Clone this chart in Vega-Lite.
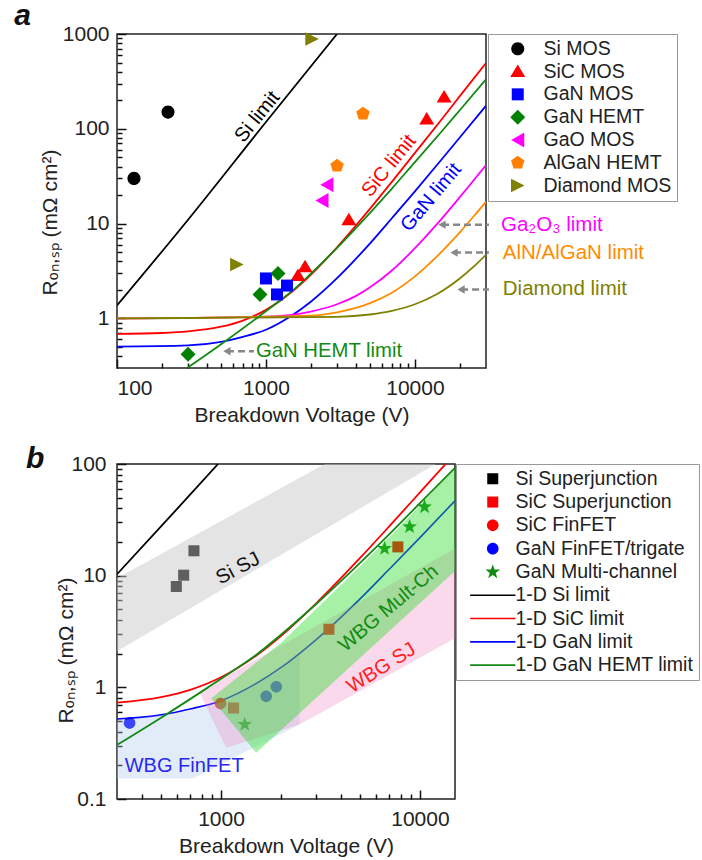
{
  "$schema": "https://vega.github.io/schema/vega-lite/v6.json",
  "padding": {"left": 13, "top": 0, "right": 0, "bottom": 0},
  "spacing": 17,
  "config": {
    "font": "Liberation Sans",
    "view": {"stroke": "#222", "strokeWidth": 1.5},
    "axis": {"labelFont": "Liberation Sans", "titleFont": "Liberation Sans", "labelColor": "#222", "titleColor": "#222", "labelFontSize": 21, "titleFontSize": 21, "titleFontWeight": "normal", "domain": false, "ticks": false, "grid": true, "gridColor": "#111111", "gridOpacity": 1, "gridWidth": 1.5, "gridCap": "butt", "labelOverlap": false},
    "legend": {"labelFont": "Liberation Sans", "labelFontSize": 19.5, "labelColor": "#222", "strokeColor": "#999", "padding": 5, "titlePadding": 0, "labelLimit": 400}
  },
  "datasets": {
    "limA": [
      {"s": "SiC", "x": 100, "y": 0.686}, {"s": "SiC", "x": 200, "y": 0.702}, {"s": "SiC", "x": 300, "y": 0.73}, {"s": "SiC", "x": 500, "y": 0.818}, {"s": "SiC", "x": 700, "y": 0.95}, {"s": "SiC", "x": 1000, "y": 1.23}, {"s": "SiC", "x": 1500, "y": 1.92}, {"s": "SiC", "x": 2000, "y": 2.88}, {"s": "SiC", "x": 3000, "y": 5.63}, {"s": "SiC", "x": 5000, "y": 14.4}, {"s": "SiC", "x": 7000, "y": 27.6}, {"s": "SiC", "x": 10000, "y": 55.7}, {"s": "SiC", "x": 15000, "y": 124}, {"s": "SiC", "x": 20000, "y": 221}, {"s": "SiC", "x": 30000, "y": 495},
      {"s": "GaN", "x": 100, "y": 0.505}, {"s": "GaN", "x": 300, "y": 0.52}, {"s": "GaN", "x": 500, "y": 0.567}, {"s": "GaN", "x": 700, "y": 0.64}, {"s": "GaN", "x": 1000, "y": 0.76}, {"s": "GaN", "x": 1500, "y": 1.08}, {"s": "GaN", "x": 2000, "y": 1.5}, {"s": "GaN", "x": 3000, "y": 2.66}, {"s": "GaN", "x": 5000, "y": 6.2}, {"s": "GaN", "x": 7000, "y": 11.4}, {"s": "GaN", "x": 10000, "y": 21.9}, {"s": "GaN", "x": 15000, "y": 46.9}, {"s": "GaN", "x": 20000, "y": 80.9}, {"s": "GaN", "x": 30000, "y": 175},
      {"s": "Ga2O3", "x": 100, "y": 1.0}, {"s": "Ga2O3", "x": 1000, "y": 1.045}, {"s": "Ga2O3", "x": 2000, "y": 1.18}, {"s": "Ga2O3", "x": 3000, "y": 1.41}, {"s": "Ga2O3", "x": 4000, "y": 1.72}, {"s": "Ga2O3", "x": 5000, "y": 2.13}, {"s": "Ga2O3", "x": 7000, "y": 3.2}, {"s": "Ga2O3", "x": 10000, "y": 5.5}, {"s": "Ga2O3", "x": 14000, "y": 9.8}, {"s": "Ga2O3", "x": 20000, "y": 19}, {"s": "Ga2O3", "x": 30000, "y": 41.5},
      {"s": "AlN", "x": 100, "y": 1.0}, {"s": "AlN", "x": 2000, "y": 1.07}, {"s": "AlN", "x": 3000, "y": 1.16}, {"s": "AlN", "x": 5000, "y": 1.45}, {"s": "AlN", "x": 7000, "y": 1.87}, {"s": "AlN", "x": 10000, "y": 2.78}, {"s": "AlN", "x": 14000, "y": 4.49}, {"s": "AlN", "x": 20000, "y": 8.1}, {"s": "AlN", "x": 25000, "y": 12.1}, {"s": "AlN", "x": 30000, "y": 17},
      {"s": "Diamond", "x": 100, "y": 1.0}, {"s": "Diamond", "x": 3000, "y": 1.04}, {"s": "Diamond", "x": 5000, "y": 1.1}, {"s": "Diamond", "x": 7000, "y": 1.2}, {"s": "Diamond", "x": 10000, "y": 1.41}, {"s": "Diamond", "x": 14000, "y": 1.8}, {"s": "Diamond", "x": 20000, "y": 2.64}, {"s": "Diamond", "x": 25000, "y": 3.56}, {"s": "Diamond", "x": 30000, "y": 4.69},
      {"s": "GaN HEMT", "x": 300, "y": 0.305}, {"s": "GaN HEMT", "x": 500, "y": 0.535}, {"s": "GaN HEMT", "x": 857, "y": 0.994}, {"s": "GaN HEMT", "x": 1200, "y": 1.48}, {"s": "GaN HEMT", "x": 1500, "y": 1.95}, {"s": "GaN HEMT", "x": 2000, "y": 2.96}, {"s": "GaN HEMT", "x": 3000, "y": 5.55}, {"s": "GaN HEMT", "x": 5000, "y": 13}, {"s": "GaN HEMT", "x": 7000, "y": 23.4}, {"s": "GaN HEMT", "x": 10000, "y": 44.6}, {"s": "GaN HEMT", "x": 15000, "y": 92.5}, {"s": "GaN HEMT", "x": 20000, "y": 157}, {"s": "GaN HEMT", "x": 30000, "y": 332},
      {"s": "Si", "x": 100, "y": 1.37}, {"s": "Si", "x": 300, "y": 11}, {"s": "Si", "x": 1000, "y": 118}, {"s": "Si", "x": 3000, "y": 1000}
    ],
    "mkA": [
      {"s": "Si MOS", "x": 130, "y": 30}, {"s": "Si MOS", "x": 220, "y": 150},
      {"s": "SiC MOS", "x": 3600, "y": 11}, {"s": "SiC MOS", "x": 1640, "y": 2.84}, {"s": "SiC MOS", "x": 1830, "y": 3.5}, {"s": "SiC MOS", "x": 12000, "y": 127}, {"s": "SiC MOS", "x": 15700, "y": 217},
      {"s": "GaN MOS", "x": 1000, "y": 2.64}, {"s": "GaN MOS", "x": 1186, "y": 1.79}, {"s": "GaN MOS", "x": 1384, "y": 2.22},
      {"s": "GaN HEMT", "x": 912, "y": 1.79}, {"s": "GaN HEMT", "x": 1204, "y": 2.98}, {"s": "GaN HEMT", "x": 300, "y": 0.42},
      {"s": "GaO MOS", "x": 2565, "y": 25.7}, {"s": "GaO MOS", "x": 2377, "y": 17.5},
      {"s": "AlGaN HEMT", "x": 3000, "y": 40.7}, {"s": "AlGaN HEMT", "x": 4480, "y": 144},
      {"s": "Diamond MOS", "x": 638, "y": 3.7}, {"s": "Diamond MOS", "x": 2040, "y": 886}
    ],
    "arrA": [
      {"x": 15200, "x2": 31400, "y": 9.75}, {"x": 18300, "x2": 31400, "y": 4.95}, {"x": 20400, "x2": 31400, "y": 2.02}, {"x": 547, "x2": 830, "y": 0.45}
    ],
    "limB": [
      {"s": "GaN", "x": 300, "y": 0.52}, {"s": "GaN", "x": 500, "y": 0.567}, {"s": "GaN", "x": 700, "y": 0.64}, {"s": "GaN", "x": 1000, "y": 0.76}, {"s": "GaN", "x": 1500, "y": 1.08}, {"s": "GaN", "x": 2000, "y": 1.5}, {"s": "GaN", "x": 3000, "y": 2.66}, {"s": "GaN", "x": 5000, "y": 6.2}, {"s": "GaN", "x": 7000, "y": 11.4}, {"s": "GaN", "x": 10000, "y": 21.9}, {"s": "GaN", "x": 15000, "y": 46.9},
      {"s": "SiC", "x": 300, "y": 0.73}, {"s": "SiC", "x": 500, "y": 0.818}, {"s": "SiC", "x": 700, "y": 0.95}, {"s": "SiC", "x": 1000, "y": 1.23}, {"s": "SiC", "x": 1500, "y": 1.92}, {"s": "SiC", "x": 2000, "y": 2.88}, {"s": "SiC", "x": 3000, "y": 5.63}, {"s": "SiC", "x": 5000, "y": 14.4}, {"s": "SiC", "x": 7000, "y": 27.6}, {"s": "SiC", "x": 10000, "y": 55.7}, {"s": "SiC", "x": 15000, "y": 124},
      {"s": "GaN HEMT", "x": 300, "y": 0.305}, {"s": "GaN HEMT", "x": 500, "y": 0.535}, {"s": "GaN HEMT", "x": 857, "y": 0.994}, {"s": "GaN HEMT", "x": 1200, "y": 1.48}, {"s": "GaN HEMT", "x": 1500, "y": 1.95}, {"s": "GaN HEMT", "x": 2000, "y": 2.96}, {"s": "GaN HEMT", "x": 3000, "y": 5.55}, {"s": "GaN HEMT", "x": 5000, "y": 13}, {"s": "GaN HEMT", "x": 7000, "y": 23.4}, {"s": "GaN HEMT", "x": 10000, "y": 44.6}, {"s": "GaN HEMT", "x": 15000, "y": 92.5},
      {"s": "Si", "x": 300, "y": 10.3}, {"s": "Si", "x": 600, "y": 39.5}, {"s": "Si", "x": 966, "y": 100}
    ],
    "mkB": [
      {"s": "Si Superjunction", "x": 596, "y": 8.0}, {"s": "Si Superjunction", "x": 649, "y": 10.1}, {"s": "Si Superjunction", "x": 731, "y": 16.7},
      {"s": "SiC Superjunction", "x": 3486, "y": 3.31}, {"s": "SiC Superjunction", "x": 7740, "y": 18.1}, {"s": "SiC Superjunction", "x": 1156, "y": 0.653},
      {"s": "SiC FinFET", "x": 995, "y": 0.715},
      {"s": "GaN FinFET/trigate", "x": 347, "y": 0.48}, {"s": "GaN FinFET/trigate", "x": 1687, "y": 0.83}, {"s": "GaN FinFET/trigate", "x": 1896, "y": 1.01},
      {"s": "GaN Multi-channel", "x": 1315, "y": 0.465}, {"s": "GaN Multi-channel", "x": 6640, "y": 17.5}, {"s": "GaN Multi-channel", "x": 8870, "y": 27.4}, {"s": "GaN Multi-channel", "x": 10550, "y": 41.3}
    ],
    "reg": [
      {"r": "gray", "o": 1, "x": 300, "y": 9.46}, {"r": "gray", "o": 2, "x": 3320, "y": 100}, {"r": "gray", "o": 3, "x": 12000, "y": 100}, {"r": "gray", "o": 4, "x": 300, "y": 2.1},
      {"r": "blue", "o": 1, "x": 300, "y": 0.5}, {"r": "blue", "o": 2, "x": 700, "y": 0.615}, {"r": "blue", "o": 3, "x": 1000, "y": 0.73}, {"r": "blue", "o": 4, "x": 1500, "y": 1.04}, {"r": "blue", "o": 5, "x": 2000, "y": 1.44}, {"r": "blue", "o": 6, "x": 2485, "y": 1.95}, {"r": "blue", "o": 7, "x": 2485, "y": 0.465}, {"r": "blue", "o": 8, "x": 722, "y": 0.153}, {"r": "blue", "o": 9, "x": 300, "y": 0.153},
      {"r": "pink", "o": 1, "x": 775, "y": 0.92}, {"r": "pink", "o": 2, "x": 1062, "y": 0.287}, {"r": "pink", "o": 3, "x": 2485, "y": 0.465}, {"r": "pink", "o": 4, "x": 15000, "y": 2.75}, {"r": "pink", "o": 5, "x": 15000, "y": 17.5},
      {"r": "green", "o": 1, "x": 893, "y": 0.8}, {"r": "green", "o": 2, "x": 2000, "y": 2.5}, {"r": "green", "o": 3, "x": 4000, "y": 8.2}, {"r": "green", "o": 4, "x": 8000, "y": 28}, {"r": "green", "o": 5, "x": 15000, "y": 92}, {"r": "green", "o": 6, "x": 15000, "y": 11}, {"r": "green", "o": 7, "x": 1503, "y": 0.26}
    ]
  },
  "resolve": {"scale": {"x": "independent", "y": "independent", "color": "independent", "shape": "independent", "stroke": "independent"}},
  "vconcat": [
    {
      "width": 369,
      "height": 334,
      "resolve": {"axis": {"x": "independent", "y": "independent"}},
      "layer": [
        {
          "layer": [
            {
              "data": {"name": "limA"},
              "mark": {"type": "line", "strokeWidth": 1.8, "clip": true, "interpolate": "monotone"},
              "encoding": {
                "x": {"field": "x", "type": "quantitative", "scale": {"type": "log", "domain": [100, 30000], "nice": false},
                  "axis": {"orient": "bottom", "title": "Breakdown Voltage (V)", "values": [100, 1000, 10000], "labelExpr": "toString(datum.value)", "grid": true, "gridDash": [0, 325, 9, 100], "labelPadding": 9, "titlePadding": 6}},
                "y": {"field": "y", "type": "quantitative", "scale": {"type": "log", "domain": [0.3, 1000], "nice": false},
                  "axis": {"orient": "left", "title": "Rₒₙ,ₛₚ (mΩ cm²)", "values": [1, 10, 100, 1000], "labelExpr": "toString(datum.value)", "grid": true, "gridDash": [9, 2000], "labelPadding": 8, "titleX": -67, "titleY": 188, "titleBaseline": "middle"}},
                "stroke": {"field": "s", "type": "nominal", "legend": null,
                  "scale": {"domain": ["SiC", "GaN", "Ga2O3", "AlN", "Diamond", "GaN HEMT", "Si"], "range": ["#ff0000", "#0000ff", "#ff00ff", "#ff8c00", "#808000", "#138a13", "#000000"]}}
              }
            },
            {
              "data": {"name": "arrA"},
              "mark": {"type": "rule", "color": "#888888", "strokeWidth": 2.5, "strokeDash": [7, 4]},
              "encoding": {"x": {"field": "x", "type": "quantitative"}, "x2": {"field": "x2"}, "y": {"field": "y", "type": "quantitative"}}
            },
            {
              "data": {"name": "arrA"},
              "mark": {"type": "point", "shape": "triangle-left", "filled": true, "color": "#888888", "size": 70, "opacity": 1},
              "encoding": {"x": {"field": "x", "type": "quantitative"}, "y": {"field": "y", "type": "quantitative"}}
            },
            {
              "data": {"values": [{"x": 20.4, "y": 1244, "t": "a"}]},
              "mark": {"type": "text", "align": "left", "baseline": "alphabetic", "fontSize": 30, "fontWeight": "bold", "fontStyle": "italic", "color": "#111"},
              "encoding": {"x": {"field": "x", "type": "quantitative"}, "y": {"field": "y", "type": "quantitative"}, "text": {"field": "t"}}
            },
            {
              "data": {"values": [{"x": 875, "y": 134, "t": "Si limit"}]},
              "mark": {"type": "text", "angle": -51, "fontSize": 20, "color": "#000"},
              "encoding": {"x": {"field": "x", "type": "quantitative"}, "y": {"field": "y", "type": "quantitative"}, "text": {"field": "t"}}
            },
            {
              "data": {"values": [{"x": 6700, "y": 40.7, "t": "SiC limit"}]},
              "mark": {"type": "text", "angle": -51, "fontSize": 20, "color": "#ff0000"},
              "encoding": {"x": {"field": "x", "type": "quantitative"}, "y": {"field": "y", "type": "quantitative"}, "text": {"field": "t"}}
            },
            {
              "data": {"values": [{"x": 12850, "y": 18.9, "t": "GaN limit"}]},
              "mark": {"type": "text", "angle": -50, "fontSize": 20, "color": "#0000ff"},
              "encoding": {"x": {"field": "x", "type": "quantitative"}, "y": {"field": "y", "type": "quantitative"}, "text": {"field": "t"}}
            },
            {
              "data": {"values": [{"x": 857, "y": 0.45, "t": "GaN HEMT limit"}]},
              "mark": {"type": "text", "align": "left", "baseline": "middle", "fontSize": 20.3, "color": "#138a13"},
              "encoding": {"x": {"field": "x", "type": "quantitative"}, "y": {"field": "y", "type": "quantitative"}, "text": {"field": "t"}}
            },
            {
              "data": {"values": [{"x": 37800, "y": 9.75, "t": "Ga₂O₃ limit"}]},
              "mark": {"type": "text", "align": "left", "baseline": "middle", "fontSize": 20.5, "color": "#ff00ff"},
              "encoding": {"x": {"field": "x", "type": "quantitative"}, "y": {"field": "y", "type": "quantitative"}, "text": {"field": "t"}}
            },
            {
              "data": {"values": [{"x": 38900, "y": 4.95, "t": "AlN/AlGaN limit"}]},
              "mark": {"type": "text", "align": "left", "baseline": "middle", "fontSize": 20.5, "color": "#ff8c00"},
              "encoding": {"x": {"field": "x", "type": "quantitative"}, "y": {"field": "y", "type": "quantitative"}, "text": {"field": "t"}}
            },
            {
              "data": {"values": [{"x": 38900, "y": 2.02, "t": "Diamond limit"}]},
              "mark": {"type": "text", "align": "left", "baseline": "middle", "fontSize": 20.5, "color": "#808000"},
              "encoding": {"x": {"field": "x", "type": "quantitative"}, "y": {"field": "y", "type": "quantitative"}, "text": {"field": "t"}}
            },
            {
              "data": {"name": "mkA"},
              "mark": {"type": "point", "filled": true, "size": 225, "opacity": 1, "strokeWidth": 0},
              "encoding": {
                "x": {"field": "x", "type": "quantitative"},
                "y": {"field": "y", "type": "quantitative"},
                "color": {"field": "s", "type": "nominal",
                  "scale": {"domain": ["Si MOS", "SiC MOS", "GaN MOS", "GaN HEMT", "GaO MOS", "AlGaN HEMT", "Diamond MOS"], "range": ["#000000", "#ff0000", "#0000ff", "#008000", "#ff00ff", "#ff8000", "#808000"]},
                  "legend": {"title": null, "orient": "right", "offset": 2, "symbolSize": 225, "symbolOffset": 15, "labelOffset": 16, "rowPadding": 1.8, "symbolStrokeWidth": 0, "padding": 5}},
                "shape": {"field": "s", "type": "nominal",
                  "scale": {"domain": ["Si MOS", "SiC MOS", "GaN MOS", "GaN HEMT", "GaO MOS", "AlGaN HEMT", "Diamond MOS"],
                    "range": ["M-0.87,0A0.87,0.87,0,1,0,0.87,0A0.87,0.87,0,1,0,-0.87,0Z", "M0,-0.93L1,0.73L-1,0.73Z", "M-0.8,-0.8H0.8V0.8H-0.8Z", "M0,-1L1,0L0,1L-1,0Z", "M-0.87,0L0.87,-1L0.87,1Z", "M0,-0.95L0.9,-0.29L0.56,0.77L-0.56,0.77L-0.9,-0.29Z", "M0.9,0L-0.9,-0.9L-0.9,0.9Z"]},
                  "legend": {"title": null, "orient": "right", "offset": 2, "symbolSize": 225, "symbolOffset": 15, "labelOffset": 16, "rowPadding": 1.8, "symbolStrokeWidth": 0, "padding": 5}}
              }
            }
          ]
        },
        {
          "data": {"name": "mkA"},
          "mark": {"type": "point", "opacity": 0},
          "encoding": {
            "x": {"field": "x", "type": "quantitative", "axis": {"orient": "bottom", "values": [200, 300, 400, 500, 600, 700, 800, 900, 2000, 3000, 4000, 5000, 6000, 7000, 8000, 9000, 20000], "labels": false, "title": null, "grid": true, "gridDash": [0, 329, 5, 100]}},
            "y": {"field": "y", "type": "quantitative", "axis": {"orient": "left", "values": [0.4, 0.5, 0.6, 0.7, 0.8, 0.9, 2, 3, 4, 5, 6, 7, 8, 9, 20, 30, 40, 50, 60, 70, 80, 90, 200, 300, 400, 500, 600, 700, 800, 900], "labels": false, "title": null, "grid": true, "gridDash": [5, 2000]}}
          }
        }
      ]
    },
    {
      "width": 338,
      "height": 335,
      "resolve": {"axis": {"x": "independent", "y": "independent"}},
      "layer": [
        {
          "layer": [
            {
              "data": {"name": "limB"},
              "transform": [{"filter": "datum.s === 'GaN'"}],
              "mark": {"type": "line", "strokeWidth": 1.6, "clip": true, "color": "#0000ff", "interpolate": "monotone"},
              "encoding": {
                "x": {"field": "x", "type": "quantitative", "scale": {"type": "log", "domain": [300, 15000], "nice": false},
                  "axis": {"orient": "bottom", "title": "Breakdown Voltage (V)", "values": [1000, 10000], "labelExpr": "toString(datum.value)", "grid": true, "gridDash": [0, 326, 9, 100], "labelPadding": 9, "titlePadding": 6}},
                "y": {"field": "y", "type": "quantitative", "scale": {"type": "log", "domain": [0.1, 100], "nice": false},
                  "axis": {"orient": "left", "title": "Rₒₙ,ₛₚ (mΩ cm²)", "values": [0.1, 1, 10, 100], "labelExpr": "toString(datum.value)", "grid": true, "gridDash": [9, 2000], "labelPadding": 11, "titleX": -51, "titleY": 186, "titleBaseline": "middle"}}
              }
            },
            {
              "data": {"name": "mkB"},
              "mark": {"type": "point", "filled": true, "size": 200, "opacity": 1, "strokeWidth": 0},
              "encoding": {
                "x": {"field": "x", "type": "quantitative"},
                "y": {"field": "y", "type": "quantitative"},
                "color": {"field": "s", "type": "nominal",
                  "scale": {"domain": ["Si Superjunction", "SiC Superjunction", "SiC FinFET", "GaN FinFET/trigate", "GaN Multi-channel", "1-D Si limit", "1-D SiC limit", "1-D GaN limit", "1-D GaN HEMT limit"], "range": ["#000000", "#ff0000", "#ff0000", "#0000ff", "#138a13", "#000000", "#ff0000", "#0000ff", "#138a13"]},
                  "legend": {"title": null, "orient": "right", "offset": 1, "symbolSize": 200, "symbolOffset": 22, "labelOffset": 13, "rowPadding": 2.3, "symbolStrokeWidth": 0, "padding": 5}},
                "shape": {"field": "s", "type": "nominal",
                  "scale": {"domain": ["Si Superjunction", "SiC Superjunction", "SiC FinFET", "GaN FinFET/trigate", "GaN Multi-channel", "1-D Si limit", "1-D SiC limit", "1-D GaN limit", "1-D GaN HEMT limit"],
                    "range": ["M-0.78,-0.78H0.78V0.78H-0.78Z", "M-0.78,-0.78H0.78V0.78H-0.78Z", "M-0.82,0A0.82,0.82,0,1,0,0.82,0A0.82,0.82,0,1,0,-0.82,0Z", "M-0.82,0A0.82,0.82,0,1,0,0.82,0A0.82,0.82,0,1,0,-0.82,0Z", "M0,-1.1L0.259,-0.356L1.046,-0.34L0.418,0.136L0.647,0.89L0,0.44L-0.647,0.89L-0.418,0.136L-1.046,-0.34L-0.259,-0.356Z", "M-3.2,-0.11H3.2V0.11H-3.2Z", "M-3.2,-0.11H3.2V0.11H-3.2Z", "M-3.2,-0.11H3.2V0.11H-3.2Z", "M-3.2,-0.11H3.2V0.11H-3.2Z"]},
                  "legend": {"title": null, "orient": "right", "offset": 1, "symbolSize": 200, "symbolOffset": 22, "labelOffset": 13, "rowPadding": 2.3, "symbolStrokeWidth": 0, "padding": 5}}
              }
            },
            {
              "data": {"name": "reg"},
              "transform": [{"filter": "datum.r === 'gray'"}],
              "mark": {"type": "line", "fill": "#c6c6c6", "fillOpacity": 0.48, "strokeWidth": 0, "strokeOpacity": 0},
              "encoding": {"x": {"field": "x", "type": "quantitative"}, "y": {"field": "y", "type": "quantitative"}, "order": {"field": "o", "type": "quantitative"}}
            },
            {
              "data": {"name": "reg"},
              "transform": [{"filter": "datum.r === 'blue'"}],
              "mark": {"type": "line", "fill": "#a8c8ec", "fillOpacity": 0.35, "strokeWidth": 0, "strokeOpacity": 0},
              "encoding": {"x": {"field": "x", "type": "quantitative"}, "y": {"field": "y", "type": "quantitative"}, "order": {"field": "o", "type": "quantitative"}}
            },
            {
              "data": {"name": "reg"},
              "transform": [{"filter": "datum.r === 'pink'"}],
              "mark": {"type": "line", "fill": "#f080c0", "fillOpacity": 0.3, "strokeWidth": 0, "strokeOpacity": 0},
              "encoding": {"x": {"field": "x", "type": "quantitative"}, "y": {"field": "y", "type": "quantitative"}, "order": {"field": "o", "type": "quantitative"}}
            },
            {
              "data": {"name": "reg"},
              "transform": [{"filter": "datum.r === 'green'"}],
              "mark": {"type": "line", "fill": "#22dd22", "fillOpacity": 0.4, "strokeWidth": 0, "strokeOpacity": 0},
              "encoding": {"x": {"field": "x", "type": "quantitative"}, "y": {"field": "y", "type": "quantitative"}, "order": {"field": "o", "type": "quantitative"}}
            },
            {
              "data": {"name": "limB"},
              "transform": [{"filter": "datum.s !== 'GaN'"}],
              "mark": {"type": "line", "strokeWidth": 1.8, "clip": true, "interpolate": "monotone"},
              "encoding": {
                "x": {"field": "x", "type": "quantitative"},
                "y": {"field": "y", "type": "quantitative"},
                "stroke": {"field": "s", "type": "nominal", "legend": null, "scale": {"domain": ["SiC", "GaN HEMT", "Si"], "range": ["#ff0000", "#138a13", "#000000"]}}
              }
            },
            {
              "data": {"values": [{"x": 104.6, "y": 92, "t": "b"}]},
              "mark": {"type": "text", "align": "left", "baseline": "alphabetic", "fontSize": 30, "fontWeight": "bold", "fontStyle": "italic", "color": "#111"},
              "encoding": {"x": {"field": "x", "type": "quantitative"}, "y": {"field": "y", "type": "quantitative"}, "text": {"field": "t"}}
            },
            {
              "data": {"values": [{"x": 1217, "y": 11.6, "t": "Si SJ"}]},
              "mark": {"type": "text", "angle": -28, "fontSize": 20, "color": "#111"},
              "encoding": {"x": {"field": "x", "type": "quantitative"}, "y": {"field": "y", "type": "quantitative"}, "text": {"field": "t"}}
            },
            {
              "data": {"values": [{"x": 6950, "y": 5.1, "t": "WBG Mult-Ch"}]},
              "mark": {"type": "text", "angle": -40, "fontSize": 20, "color": "#138a13"},
              "encoding": {"x": {"field": "x", "type": "quantitative"}, "y": {"field": "y", "type": "quantitative"}, "text": {"field": "t"}}
            },
            {
              "data": {"values": [{"x": 6390, "y": 1.49, "t": "WBG SJ"}]},
              "mark": {"type": "text", "angle": -32, "fontSize": 20, "color": "#ff2020"},
              "encoding": {"x": {"field": "x", "type": "quantitative"}, "y": {"field": "y", "type": "quantitative"}, "text": {"field": "t"}}
            },
            {
              "data": {"values": [{"x": 328, "y": 0.197, "t": "WBG FinFET"}]},
              "mark": {"type": "text", "align": "left", "baseline": "middle", "fontSize": 20, "color": "#2828f0"},
              "encoding": {"x": {"field": "x", "type": "quantitative"}, "y": {"field": "y", "type": "quantitative"}, "text": {"field": "t"}}
            }
          ]
        },
        {
          "data": {"name": "mkB"},
          "mark": {"type": "point", "opacity": 0},
          "encoding": {
            "x": {"field": "x", "type": "quantitative", "axis": {"orient": "bottom", "values": [400, 500, 600, 700, 800, 900, 2000, 3000, 4000, 5000, 6000, 7000, 8000, 9000], "labels": false, "title": null, "grid": true, "gridDash": [0, 330, 5, 100]}},
            "y": {"field": "y", "type": "quantitative", "axis": {"orient": "left", "values": [0.2, 0.3, 0.4, 0.5, 0.6, 0.7, 0.8, 0.9, 2, 3, 4, 5, 6, 7, 8, 9, 20, 30, 40, 50, 60, 70, 80, 90], "labels": false, "title": null, "grid": true, "gridDash": [5, 2000]}}
          }
        }
      ]
    }
  ]
}
